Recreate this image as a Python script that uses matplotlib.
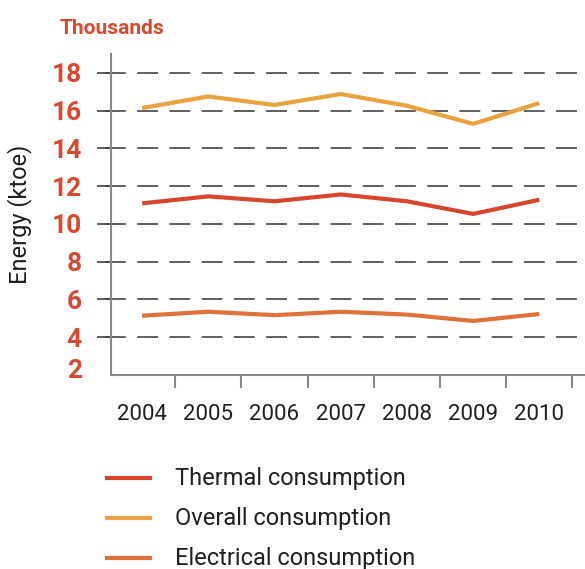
import matplotlib
matplotlib.use("Agg")
import matplotlib.pyplot as plt
from matplotlib.lines import Line2D
import matplotlib.transforms as mtransforms

plt.rcParams['font.family'] = ['Roboto', 'DejaVu Sans']
plt.rcParams['lines.scale_dashes'] = False

years = ["2004", "2005", "2006", "2007", "2008", "2009", "2010"]
thermal = [11.09, 11.46, 11.20, 11.56, 11.20, 10.53, 11.28]
overall = [16.14, 16.75, 16.30, 16.88, 16.26, 15.30, 16.40]
electrical = [5.14, 5.35, 5.17, 5.35, 5.20, 4.86, 5.23]
yticks = [2, 4, 6, 8, 10, 12, 14, 16, 18]
series_names = ["Thermal consumption", "Overall consumption", "Electrical consumption"]

c_thermal = "#d8452c"
c_overall = "#e8a33f"
c_elec = "#e07138"
c_red = "#d84a2f"
c_text = "#231f20"

fig = plt.figure(figsize=(5.85, 5.69), dpi=100)
ax = fig.add_axes([111/585, 1-375/569, 1-111/585, (375-54)/569])

x = list(range(len(years)))
ax.set_xlim(-0.47, 6.69)
ax.set_ylim(2.05, 19.0)

for v in yticks[1:]:
    ax.axhline(v, xmin=-(111-105)/474, xmax=1, color="#444444", lw=1.2,
               linestyle=(0, (15, 8.2)), clip_on=False, zorder=1)

ax.plot(x, overall, color=c_overall, lw=3, solid_capstyle='butt', zorder=3)
ax.plot(x, thermal, color=c_thermal, lw=3, solid_capstyle='butt', zorder=3)
ax.plot(x, electrical, color=c_elec, lw=3, solid_capstyle='butt', zorder=3)

for s in ['top', 'right']:
    ax.spines[s].set_visible(False)
for s in ['left', 'bottom']:
    ax.spines[s].set_color("#888888")
    ax.spines[s].set_linewidth(1.5)

ax.set_yticks(yticks)
ax.set_yticklabels([str(v) for v in yticks], fontsize=19, fontweight='bold', color=c_red)
ax.tick_params(axis='y', length=10, width=1.2, color="#444444", pad=11)
first = ax.yaxis.get_major_ticks()[0]
first.tick1line.set_visible(False)
lab = first.label1
lab.set_transform(lab.get_transform() + mtransforms.ScaledTranslation(0, 7/100, fig.dpi_scale_trans))

# boundaries between categories carry the tick marks
ax.set_xticks([i + 0.5 for i in x])
ax.set_xticklabels([])
ax.tick_params(axis='x', which='major', length=9.5, width=1.5, color="#888888")

trans = mtransforms.blended_transform_factory(ax.transData, ax.transAxes)
for xi, yr in zip(x, years):
    ax.text(xi, (375-415)/321, yr, transform=trans, fontsize=16, color=c_text,
            ha='center', va='center', clip_on=False)

fig.text(20/585, 1-214/569, "Energy (ktoe)", rotation=90, fontsize=17,
         color=c_text, ha='center', va='center')
fig.text(60/585, 1-29/569, "Thousands", fontsize=15, fontweight='bold',
         color=c_red, ha='left', va='center')

for i, (n, c) in enumerate(zip(series_names, (c_thermal, c_overall, c_elec))):
    yy = 1 - (478 + 40*i)/569
    fig.add_artist(Line2D([107/585, 150/585], [yy, yy], color=c, lw=3,
                          transform=fig.transFigure))
    fig.text(175/585, yy, n, fontsize=17, color=c_text, ha='left', va='center')

fig.savefig("out.png", dpi=100)
